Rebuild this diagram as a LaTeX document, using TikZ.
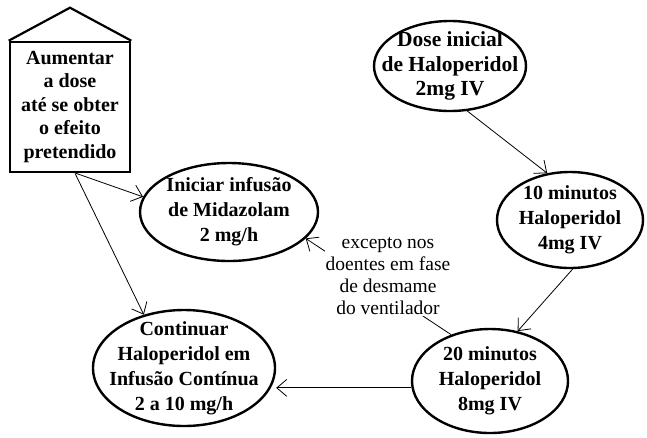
\documentclass[tikz,border=0pt]{standalone}
\usepackage{fontspec}
\setmainfont{Liberation Serif}
\usetikzlibrary{shapes.geometric,arrows.meta}
\tikzset{
	etapa/.style={ellipse, draw, line width=2.4pt, inner sep=-40pt, align=center,
		font=\fontsize{20}{25}\selectfont\bfseries},
	seta/.style={-{Straight Barb[length=10pt,width=17pt]}, line width=0.8pt}
}
\begin{document}
\begin{tikzpicture}[x=1pt, y=-1pt]
		\useasboundingbox (0,0) rectangle (647,437);
		% caixa com telhado
		\node[draw, line width=2.6pt, minimum width=120pt, minimum height=130pt, inner sep=0pt, align=center,
			font=\fontsize{20}{23.5}\selectfont\bfseries] (aumentar) at (70,107)
			{Aumentar\\a dose\\até se obter\\o efeito\\pretendido};
		\draw[line width=2.2pt] (aumentar.north west) -- ([yshift=33pt]aumentar.north) -- (aumentar.north east);
		\node[etapa, minimum width=152pt, minimum height=90pt, font=\fontsize{21.5}{24.5}\selectfont\bfseries]
			(dose) at (450,66) {Dose inicial\\de Haloperidol\\2mg IV};
		\node[etapa, minimum width=146pt, minimum height=96pt] (dez) at (570,220) {10 minutos\\Haloperidol\\4mg IV};
		\node[etapa, minimum width=156pt, minimum height=104pt] (vinte) at (490,381) {20 minutos\\Haloperidol\\8mg IV};
		\node[etapa, minimum width=178pt, minimum height=98pt] (midazolam) at (229,212) {Iniciar infusão\\de Midazolam\\2 mg/h};
		\node[etapa, minimum width=182pt, minimum height=116pt] (continuar) at (184,368)
			{Continuar\\Haloperidol em\\Infusão Contínua\\2 a 10 mg/h};
		% setas
		\draw[seta] (dose.-69) -- (dez.116);
		\draw[seta] (dez.-87) -- (vinte.61);
		\draw[seta] (vinte.185) -- (vinte.185 -| continuar.east);
		\draw[seta] ([xshift=6pt]aumentar.south) -- (midazolam.170);
		\draw[seta] ([xshift=5pt]aumentar.south) -- (continuar.127);
		\draw[seta] (vinte.130) -- (midazolam.-19);
		\node[fill=white, inner sep=1pt, align=center, font=\fontsize{19.5}{22}\selectfont] (nota) at (388,276)
			{excepto nos\\doentes em fase\\de desmame\\do ventilador};
	\end{tikzpicture}
\end{document}
